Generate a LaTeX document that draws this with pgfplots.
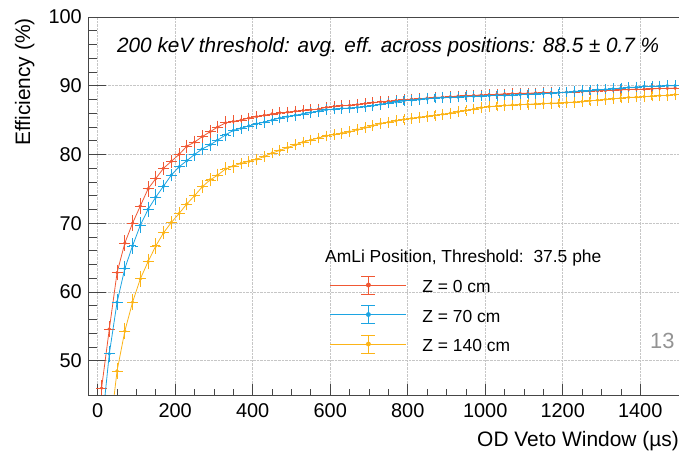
\documentclass[border=0pt]{standalone}
\usepackage{pgfplots}
\usepackage{pgfplotstable}
\pgfplotsset{compat=1.18}
\usepackage{fontspec}
\setmainfont{Liberation Sans}
\definecolor{cred}{RGB}{240,88,52}
\definecolor{cblue}{RGB}{28,164,226}
\definecolor{cyel}{RGB}{252,180,24}
\definecolor{axgray}{RGB}{70,70,70}
\pgfplotstableread{
x ex e r b o
10 10 0.9 46.0 40.0 33.0
30 10 0.9 54.6 51.0 39.0
50 10 0.9 62.8 58.5 48.5
70 10 0.9 67.1 63.4 54.3
90 10 0.9 70.0 66.7 58.5
110 10 0.9 72.5 69.7 61.9
130 10 0.9 75.0 72.0 64.4
150 10 0.9 76.5 73.8 66.7
170 10 0.7 78.0 75.4 68.6
190 10 0.7 79.0 77.0 70.1
210 10 0.7 80.0 78.2 71.4
230 10 0.7 81.2 79.1 72.8
250 10 0.7 81.8 80.0 74.0
270 10 0.7 82.6 80.8 75.3
290 10 0.7 83.3 81.4 76.3
310 10 0.7 84.0 82.1 77.0
330 10 0.7 84.6 82.85 77.9
350 10 0.7 84.8 83.5 78.3
370 10 0.55 85.0 83.8 78.7
390 10 0.55 85.3 84.15 79.0
410 10 0.55 85.5 84.45 79.3
430 10 0.55 85.7 84.7 79.7
450 10 0.55 85.9 85.0 80.2
470 10 0.55 86.05 85.3 80.6
490 10 0.55 86.15 85.5 81.0
510 10 0.55 86.3 85.7 81.4
530 10 0.55 86.4 85.9 81.8
550 10 0.55 86.5 86.1 82.1
570 10 0.55 86.6 86.3 82.4
590 10 0.55 86.85 86.5 82.7
610 10 0.55 87.0 86.6 82.9
630 10 0.55 87.1 86.7 83.1
650 10 0.55 87.15 86.75 83.3
670 10 0.55 87.25 86.85 83.6
690 10 0.55 87.4 86.95 83.9
710 10 0.55 87.55 87.1 84.2
730 10 0.55 87.65 87.3 84.5
750 10 0.55 87.75 87.5 84.7
770 10 0.55 87.85 87.65 84.9
790 10 0.55 87.95 87.8 85.1
810 10 0.55 88.05 87.9 85.25
830 10 0.55 88.1 88.0 85.4
850 10 0.55 88.2 88.1 85.55
870 10 0.55 88.3 88.2 85.7
890 10 0.55 88.35 88.25 85.85
910 10 0.55 88.4 88.3 86.0
930 10 0.55 88.5 88.35 86.2
950 10 0.55 88.55 88.4 86.4
970 10 0.55 88.6 88.45 86.6
990 10 0.55 88.65 88.5 86.8
1010 10 0.55 88.7 88.55 86.95
1030 10 0.55 88.75 88.6 87.05
1050 10 0.55 88.8 88.6 87.15
1070 10 0.55 88.85 88.65 87.2
1090 10 0.55 88.9 88.7 87.25
1110 10 0.55 88.9 88.75 87.3
1130 10 0.55 88.95 88.8 87.35
1150 10 0.55 89.0 88.85 87.4
1170 10 0.55 89.0 88.9 87.45
1190 10 0.55 89.0 89.0 87.5
1210 10 0.55 89.05 89.05 87.55
1230 10 0.55 89.1 89.15 87.6
1250 10 0.55 89.15 89.25 87.7
1270 10 0.55 89.2 89.3 87.8
1290 10 0.55 89.25 89.4 87.9
1310 10 0.55 89.3 89.45 88.0
1330 10 0.55 89.35 89.55 88.1
1350 10 0.55 89.4 89.65 88.2
1370 10 0.55 89.45 89.75 88.3
1390 10 0.55 89.5 89.8 88.35
1410 10 0.55 89.5 89.9 88.4
1430 10 0.55 89.55 89.9 88.5
1450 10 0.55 89.6 89.95 88.55
1470 10 0.55 89.6 90.0 88.6
1490 10 0.55 89.65 90.0 88.7
}\effdata
\pgfplotsset{
  effstyle/.style={
    mark=*, mark size=1.3bp, line width=0.8bp, mark options={solid},
    error bars/.cd, x dir=both, x explicit, y dir=both, y explicit,
    error mark=-, error mark options={mark size=1.6bp, line width=0.7bp},
    error bar style={line width=0.8bp}
  },
}
\begin{document}
\begin{tikzpicture}
\useasboundingbox (0,0) rectangle (679bp,451bp);
\begin{axis}[
  at={(88bp,56bp)}, anchor=south west,
  scale only axis, width=591bp, height=378bp,
  xmin=-25, xmax=1500, ymin=45, ymax=100,
  xtick={0,200,...,1400}, ytick={50,60,...,100},
  minor x tick num=3, minor y tick num=4,
  tick pos=left, tick align=inside,
  xtick style={axgray, line width=0.7bp, /pgfplots/major tick length=11bp, /pgfplots/minor tick length=5.5bp},
  ytick style={axgray, line width=0.7bp, /pgfplots/major tick length=18bp, /pgfplots/minor tick length=9bp},
  axis line style={axgray, line width=0.8bp},
  grid=major, major grid style={densely dotted, gray!45, line width=0.6bp},
  /pgf/number format/assume math mode=true,
  /pgf/number format/1000 sep={},
  tick label style={font=\fontsize{20}{24}\selectfont},
  yticklabel style={inner sep=0pt, xshift=-6bp},
  xticklabel style={inner sep=0pt, yshift=-8bp},
  legend cell align=left,
  legend style={at={(axis description cs:0.4095,0.3235)}, anchor=north west,
    draw=none, fill=none, inner sep=0pt, outer sep=0pt, row sep=4.5bp,
    nodes={inner sep=0pt, text height=12bp, text depth=3bp},
    font=\fontsize{17.5}{20}\selectfont},
  legend image code/.code={
    \path[draw=none, fill=none] (0bp,-9.5bp) rectangle (92bp,15.5bp);
    \draw[#1] (0bp,3.2bp) -- (76bp,3.2bp);
    \draw[#1] (38bp,-5.8bp) -- (38bp,12.2bp) (31bp,-5.8bp) -- (45bp,-5.8bp) (31bp,12.2bp) -- (45bp,12.2bp);
    \fill[#1] (38bp,3.2bp) circle (2bp);
  },
]
\addplot+[cred, effstyle] table[x=x, y=r, x error=ex, y error=e] {\effdata};
\addlegendentry{Z = 0 cm}
\addplot+[cblue, effstyle] table[x=x, y=b, x error=ex, y error=e] {\effdata};
\addlegendentry{Z = 70 cm}
\addplot+[cyel, effstyle] table[x=x, y=o, x error=ex, y error=e] {\effdata};
\addlegendentry{Z = 140 cm}
\end{axis}
\node[rotate=90, anchor=base east, inner sep=0pt, font=\fontsize{21}{24}\selectfont] at (30bp,433bp) {Efficiency (\%)};
\node[anchor=base east, inner sep=0pt, font=\fontsize{21}{24}\selectfont] at (679bp,5bp) {OD Veto Window (µs)};
\node[anchor=base west, inner sep=0pt, font=\itshape\fontsize{20.8}{24}\selectfont] at (117bp,398bp) {200 keV threshold: avg. eff. across positions: 88.5 ± 0.7 \%};
\node[anchor=base west, inner sep=0pt, font=\fontsize{17.5}{20}\selectfont] at (325bp,188bp) {AmLi Position, Threshold:\ \ 37.5 phe};
\node[anchor=base west, inner sep=0pt, text=gray!85, font=\fontsize{22}{24}\selectfont] at (650bp,102.7bp) {13};
\end{tikzpicture}
\end{document}
